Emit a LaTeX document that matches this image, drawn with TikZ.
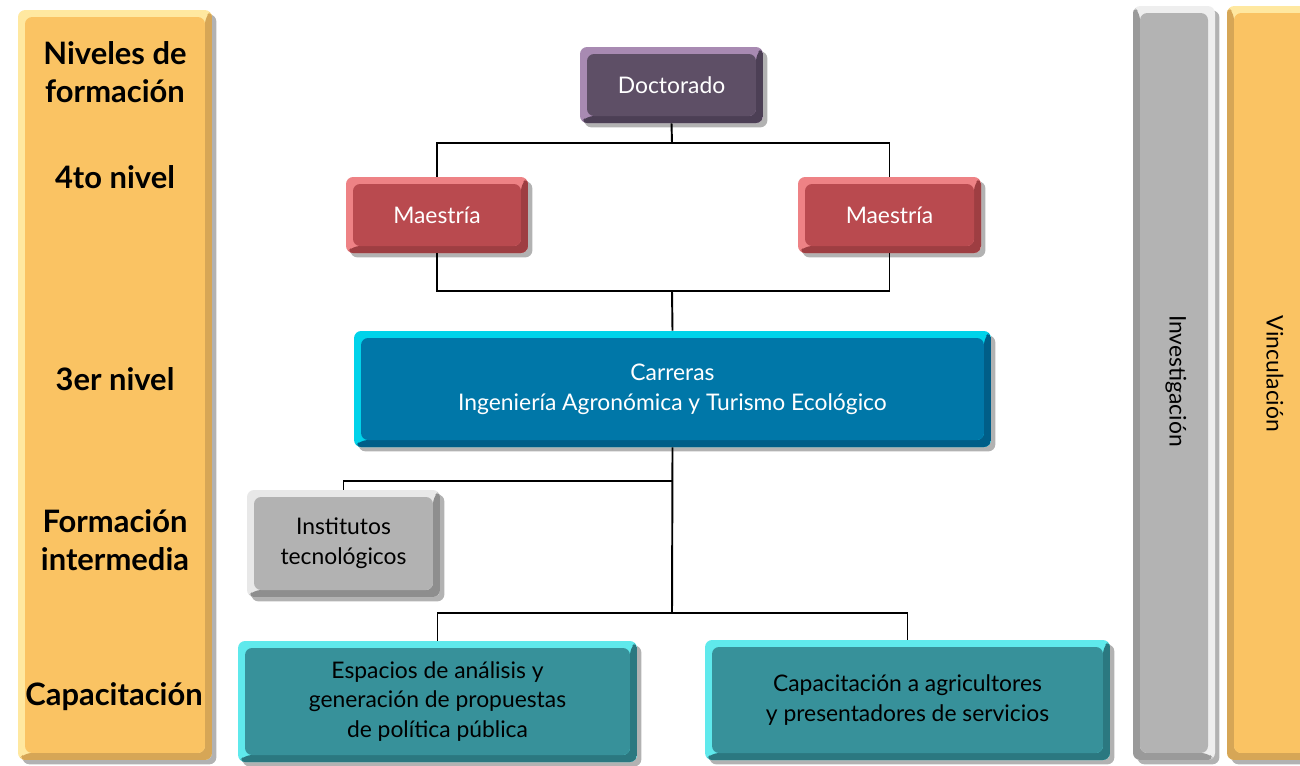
\documentclass[tikz,border=0pt]{standalone}
\usepackage{fontspec}
\setmainfont{Lato}
\usepackage{xcolor}
\usetikzlibrary{positioning,shadows,calc}
\definecolor{nivCara}{HTML}{FAC363}
\definecolor{nivClaro}{HTML}{FFE8A0}
\definecolor{nivOscuro}{HTML}{D6A656}
\definecolor{docCara}{HTML}{5E4F66}
\definecolor{docClaro}{HTML}{A88AB2}
\definecolor{docOscuro}{HTML}{4C3F55}
\definecolor{maeCara}{HTML}{B94A4F}
\definecolor{maeClaro}{HTML}{EE8285}
\definecolor{maeOscuro}{HTML}{9E3E42}
\definecolor{carCara}{HTML}{0077A8}
\definecolor{carClaro}{HTML}{00D3EA}
\definecolor{carOscuro}{HTML}{005E88}
\definecolor{insCara}{HTML}{B2B2B2}
\definecolor{insClaro}{HTML}{E8E8E8}
\definecolor{insOscuro}{HTML}{8E8E8E}
\definecolor{capCara}{HTML}{37919A}
\definecolor{capClaro}{HTML}{5FE9EC}
\definecolor{capOscuro}{HTML}{2B7880}
\definecolor{invCara}{HTML}{B3B3B3}
\definecolor{invClaro}{HTML}{EEEEEE}
\definecolor{invOscuro}{HTML}{9A9A9A}
\def\bw{0.14cm}
\tikzset{
    sombra/.style={
        drop shadow={shadow xshift=2.5pt, shadow yshift=-2.5pt, opacity=0.3, fill=black}
    },
    bisel/.style n args={3}{
        rectangle,
        rounded corners=4pt,
        fill=#2,
        sombra,
        inner sep=0pt,
        align=center,
        path picture={
            \fill[#3] (path picture bounding box.north east) -- (path picture bounding box.south east)
                -- (path picture bounding box.south west) -- ([shift={(\bw,\bw)}]path picture bounding box.south west)
                -- ([shift={(-\bw,\bw)}]path picture bounding box.south east)
                -- ([shift={(-\bw,-\bw)}]path picture bounding box.north east) -- cycle;
            \fill[#1] ([shift={(\bw,\bw)}]path picture bounding box.south west)
                rectangle ([shift={(-\bw,-\bw)}]path picture bounding box.north east);
        }
    },
    biselGiro/.style n args={3}{
        rectangle,
        rounded corners=4pt,
        fill=#2,
        sombra,
        inner sep=0pt,
        path picture={
            \fill[#3] (path picture bounding box.north west) -- (path picture bounding box.south west)
                -- (path picture bounding box.south east) -- ([shift={(-\bw,\bw)}]path picture bounding box.south east)
                -- ([shift={(\bw,\bw)}]path picture bounding box.south west)
                -- ([shift={(\bw,-\bw)}]path picture bounding box.north west) -- cycle;
            \fill[#1] ([shift={(\bw,\bw)}]path picture bounding box.south west)
                rectangle ([shift={(-\bw,-\bw)}]path picture bounding box.north east);
        }
    },
    textoCaja/.style={font=\fontsize{13}{17}\selectfont},
    nivel/.style={font=\bfseries\fontsize{17.6}{21.8}\selectfont, align=center},
    linea/.style={line width=1.1pt}
}

\begin{document}
\begin{tikzpicture}[x=0.02cm, y=-0.02cm]
    \useasboundingbox (0,0) rectangle (1300,765);

    % barras laterales
    \node[bisel={nivCara}{nivClaro}{nivOscuro}, minimum width=3.88cm, minimum height=15cm] (barraNiveles) at (115,385) {};
    \node[biselGiro={invCara}{invClaro}{invOscuro}, minimum width=1.64cm, minimum height=15.08cm] (barraInvest) at (1174,383) {};
    \node[biselGiro={nivCara}{nivClaro}{nivOscuro}, minimum width=1.92cm, minimum height=15.08cm] (barraVinc) at (1275,383) {};
    \node[textoCaja, rotate=-90] (invest) at (1176,381) {Investigación};
    \node[textoCaja, rotate=-90] (vinc) at (1275,374) {Vinculación};

    % niveles
    \node[nivel] (nivTitulo) at (115,72) {Niveles de\\formación};
    \node[nivel] (nivCuarto) at (115,177) {4to nivel};
    \node[nivel] (nivTercero) at (115,379) {3er nivel};
    \node[nivel] (nivInter) at (115,540) {Formación\\intermedia};
    \node[nivel] (nivCapac) at (114,697) {Capacitación};

    % cajas
    \node[bisel={docCara}{docClaro}{docOscuro}, textoCaja, text=white, minimum width=3.66cm, minimum height=1.52cm] (doct) at (671.5,85) {Doctorado};
    \node[bisel={maeCara}{maeClaro}{maeOscuro}, textoCaja, text=white, minimum width=3.64cm, minimum height=1.52cm] (maeIzq) at (437,215) {Maestría};
    \node[bisel={maeCara}{maeClaro}{maeOscuro}, textoCaja, text=white, minimum width=3.66cm, minimum height=1.52cm] (maeDer) at (889.5,215) {Maestría};
    \node[bisel={carCara}{carClaro}{carOscuro}, textoCaja, text=white, minimum width=12.74cm, minimum height=2.32cm] (carr) at (672.5,389) {Carreras\\Ingeniería Agronómica y Turismo Ecológico};
    \node[bisel={insCara}{insClaro}{insOscuro}, textoCaja, minimum width=3.86cm, minimum height=2.14cm] (inst) at (343.5,543.5) {Institutos\\tecnológicos};
    \node[bisel={capCara}{capClaro}{capOscuro}, textoCaja, minimum width=7.98cm, minimum height=2.42cm] (espacios) at (437.5,701.5) {Espacios de análisis y\\generación de propuestas\\de política pública};
    \node[bisel={capCara}{capClaro}{capOscuro}, textoCaja, minimum width=8.1cm, minimum height=2.4cm] (capac) at (907.5,700) {Capacitación a agricultores\\y presentadores de servicios};

    % conectores
    \coordinate (bus1) at (672,143);
    \coordinate (bus2) at (672,291);
    \coordinate (bus3) at (672,481);
    \coordinate (bus4) at (672,613);
    \draw[linea] (doct.south) -- (bus1);
    \draw[linea] (maeIzq.north) |- (bus1) -| (maeDer.north);
    \draw[linea] (maeIzq.south) |- (bus2) -| (maeDer.south);
    \draw[linea] (bus2) -- (carr.north);
    \draw[linea] (carr.south) -- (bus4);
    \draw[linea] (inst.north) |- (bus3);
    \draw[linea] (espacios.north) |- (bus4) -| (capac.north);
\end{tikzpicture}
\end{document}
